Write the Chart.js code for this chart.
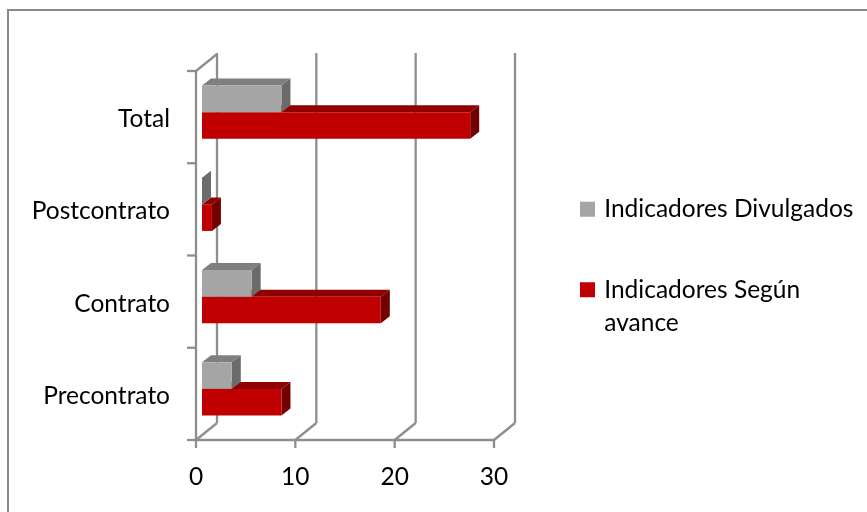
<!DOCTYPE html>
<html lang="es">
  <head>
    <meta charset="utf-8">
    <title>Indicadores</title>
    <script src="https://cdn.jsdelivr.net/npm/chart.js@4.4.1/dist/chart.umd.min.js"></script>
    <style>
      html, body { margin: 0; padding: 0; background: #fff; }
      #box { position: relative; width: 867px; height: 512px; }
      #frame { position: absolute; left: 7px; top: 9px; width: 880px; height: 600px; border: 2px solid #8a8a8a; box-sizing: border-box; }
      #wrap { position: absolute; inset: 0; overflow: hidden; }
    </style>
  </head>
  <body>
    <div id="box">
      <div id="wrap"><div id="frame"></div></div>
      <canvas id="chart" width="867" height="512" style="position:absolute;left:0;top:0"></canvas>
    </div>

    <script>
    const categories = ['Total', 'Postcontrato', 'Contrato', 'Precontrato'];
    const divulgados = [8, 0, 5, 3];
    const segunAvance = [27, 1, 18, 8];
    const seriesNames = ['Indicadores Divulgados', ['Indicadores Según', 'avance']];
    const xTicks = [0, 10, 20, 30];

    // faces of the boxes: [front, top, side]
    const greyFaces = ['#a5a5a5', '#7f7f7f', '#6b6b6b'];
    const redFaces = ['#c00000', '#900000', '#730000'];
    const wallColor = '#8e8e8e';

    // fake 3D: the chart area is the plane the bars stand on,
    // the floor front sits a bit lower left and the back wall higher right
    const front = { x: -6, y: 5 };
    const back = { x: 15, y: -12 };
    const depth = { x: 9, y: -7 };

    function poly(ctx, pts, color) {
      ctx.fillStyle = color;
      ctx.beginPath();
      pts.forEach((p, i) => i ? ctx.lineTo(p[0], p[1]) : ctx.moveTo(p[0], p[1]));
      ctx.closePath();
      ctx.fill();
    }

    function line(ctx, x1, y1, x2, y2) {
      ctx.beginPath();
      ctx.moveTo(x1, y1);
      ctx.lineTo(x2, y2);
      ctx.stroke();
    }

    const walls = {
      id: 'walls',
      beforeDatasetsDraw(chart) {
        const { ctx, scales, chartArea } = chart;
        const x = scales.x, top = chartArea.top, bottom = chartArea.bottom;
        const left = x.getPixelForValue(0);
        ctx.save();
        ctx.strokeStyle = wallColor;
        ctx.lineWidth = 2.3;
        xTicks.forEach(v => {
          const px = x.getPixelForValue(v);
          // gridline on the back wall
          line(ctx, px + back.x, top + back.y - 1, px + back.x, bottom + back.y);
          // floor line going to the front
          line(ctx, px + front.x, bottom + front.y, px + back.x, bottom + back.y);
          // tick under the floor
          line(ctx, px + front.x, bottom + front.y, px + front.x, bottom + front.y + 8);
        });
        // left wall front edge and floor front edge
        line(ctx, left + front.x, top + front.y, left + front.x, bottom + front.y);
        line(ctx, left + front.x, top + front.y, left + back.x, top + back.y);
        line(ctx, left + front.x, bottom + front.y, x.getPixelForValue(30) + front.x, bottom + front.y);
        // category ticks
        const band = (bottom - top) / categories.length;
        for (let i = 0; i <= categories.length; i++) {
          const py = top + band * i + front.y;
          line(ctx, left + front.x - 9, py, left + front.x, py);
        }
        ctx.restore();
      },
      beforeDatasetDraw(chart, args) {
        const faces = args.index === 0 ? greyFaces : redFaces;
        const ctx = chart.ctx;
        args.meta.data.forEach(bar => {
          const p = bar.getProps(['x', 'y', 'base', 'height']);
          const t = p.y - p.height / 2, b = p.y + p.height / 2;
          poly(ctx, [[p.base, t], [p.base + depth.x, t + depth.y], [p.x + depth.x, t + depth.y], [p.x, t]], faces[1]);
          poly(ctx, [[p.x, t], [p.x + depth.x, t + depth.y], [p.x + depth.x, b + depth.y], [p.x, b]], faces[2]);
        });
      },
      afterLayout(chart) {
        // legend sits right of the plot, not inside it
        const lg = chart.legend;
        lg.left = 527; lg.right = 867; lg.top = 141; lg.bottom = 512;
      }
    };

    new Chart(document.getElementById('chart').getContext('2d'), {
      type: 'bar',
      data: {
        labels: categories,
        datasets: [
          { label: seriesNames[0], data: divulgados, backgroundColor: greyFaces[0] },
          { label: seriesNames[1], data: segunAvance, backgroundColor: redFaces[0] }
        ]
      },
      options: {
        indexAxis: 'y',
        responsive: false,
        animation: false,
        devicePixelRatio: 1,
        layout: { padding: { left: 0, top: 66, right: 367, bottom: 0 } },
        datasets: { bar: { categoryPercentage: 0.576, barPercentage: 1 } },
        scales: {
          x: {
            min: 0, max: 30,
            afterFit(s) { s.height = 77; },
            afterBuildTicks(s) { s.ticks = xTicks.map(value => ({ value })); },
            grid: { display: false },
            border: { display: false },
            ticks: { color: '#000', font: { family: 'Lato', size: 24.5 }, labelOffset: -6, padding: 19, maxRotation: 0 }
          },
          y: {
            afterFit(s) { s.width = 202; },
            grid: { display: false },
            border: { display: false },
            ticks: { color: '#000', font: { family: 'Lato', size: 24.5 }, labelOffset: 7, padding: 24 }
          }
        },
        plugins: {
          tooltip: { enabled: false },
          legend: {
            position: 'chartArea',
            align: 'start',
            labels: {
              color: '#000',
              boxWidth: 9,
              boxHeight: 9,
              padding: 56,
              font: { family: 'Lato', size: 24.5, lineHeight: 1.36 },
              // thick stroke of the same colour: square stays close to the text
              generateLabels(chart) {
                return Chart.defaults.plugins.legend.labels.generateLabels(chart).map(item => {
                  item.strokeStyle = item.fillStyle;
                  item.lineWidth = 6;
                  return item;
                });
              }
            }
          }
        }
      },
      plugins: [walls]
    });
    </script>
  </body>
</html>
